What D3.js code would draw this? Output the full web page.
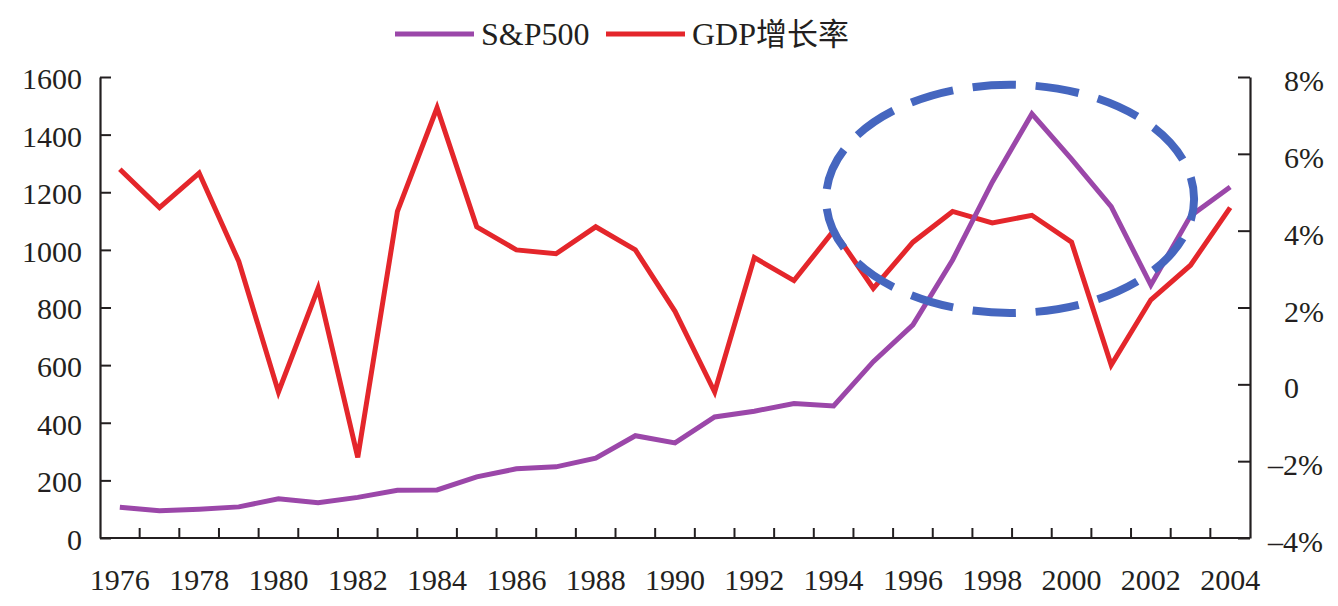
<!DOCTYPE html>
<html>
<head>
<meta charset="utf-8">
<script src="https://cdn.jsdelivr.net/npm/d3@7"></script>
<style>
  html, body { margin: 0; padding: 0; background: #fff; }
  svg { display: block; }
  text { font-family: "Liberation Serif", "Times New Roman", serif; fill: #231f20; }
</style>
</head>
<body>
<svg id="chart" width="1338" height="606"></svg>
<script>
const years = [1976,1977,1978,1979,1980,1981,1982,1983,1984,1985,1986,1987,1988,1989,1990,
               1991,1992,1993,1994,1995,1996,1997,1998,1999,2000,2001,2002,2003,2004];
const sp500 = [107,95,100,108,136,122,141,166,167,212,240,247,277,355,330,
               420,440,467,458,612,740,965,1235,1472,1315,1150,878,1118,1218];
const gdpGrowth = [5.6,4.6,5.5,3.2,-0.2,2.5,-1.9,4.5,7.2,4.1,3.5,3.4,4.1,3.5,1.9,
                   -0.2,3.3,2.7,4.0,2.5,3.7,4.5,4.2,4.4,3.7,0.5,2.2,3.1,4.6];
const leftTicks = [0,200,400,600,800,1000,1200,1400,1600];
const rightTicks = [-4,-2,0,2,4,6,8];
const xTickLabels = [1976,1978,1980,1982,1984,1986,1988,1990,1992,1994,1996,1998,2000,2002,2004];
const seriesNames = ["S&P500", "GDP增长率"];
const seriesColors = ["#9b47a9", "#e4262b"];
// highlight annotation, in data units (year, left-axis value)
const highlightCenter = [1998.45, 1177];
const highlightRadius = [4.64, 396];

const svg = d3.select("#chart");
const L = 100, R = 1250, T = 77, B = 538;
const ink = "#231f20";
const serif = '"Liberation Serif", "Times New Roman", serif';

const x = d3.scaleBand().domain(years).range([L, R]);
const bw = x.bandwidth();
const xc = d => x(d) + bw / 2;
const xLin = d3.scaleLinear().domain([years[0], years[years.length - 1]])
  .range([xc(years[0]), xc(years[years.length - 1])]);
const yL = d3.scaleLinear().domain([0, 1600]).range([B, T]);
const yR = d3.scaleLinear().domain([-4, 8]).range([B, T]);

// left axis
const gL = svg.append("g").attr("transform", `translate(${L},0)`)
  .call(d3.axisLeft(yL).tickValues(leftTicks).tickFormat(d3.format("d"))
    .tickSizeInner(-11).tickSizeOuter(0).tickPadding(18));
gL.selectAll("text").attr("dy", "0.38em");

// right axis
const fmtR = d => d === 0 ? "0" : (d < 0 ? "\u2013" : "") + Math.abs(d) + "%";
const gR = svg.append("g").attr("transform", `translate(${R},0)`)
  .call(d3.axisRight(yR).tickValues(rightTicks).tickFormat(fmtR).tickSizeInner(-12).tickSizeOuter(0).tickPadding(33));
gR.selectAll("text").attr("dy", "0.45em")
  .attr("x", d => d < 0 ? 18 : 34);

// bottom axis: labels centered on bands, ticks at band boundaries
const gB = svg.append("g").attr("transform", `translate(0,${B})`)
  .call(d3.axisBottom(x).tickValues(xTickLabels).tickSize(0).tickPadding(31));
gB.select(".domain").remove();
gB.selectAll(".xb").data(years.slice(1)).join("line").attr("class", "xb")
  .attr("x1", d => x(d)).attr("x2", d => x(d)).attr("y1", 0).attr("y2", -10)
  .attr("stroke", ink).attr("stroke-width", 2);
gB.append("line").attr("x1", L).attr("x2", R).attr("y1", 0).attr("y2", 0)
  .attr("stroke", ink).attr("stroke-width", 2.2);

[gL, gR, gB].forEach(g => {
  g.attr("font-family", null).attr("font-size", null);
  g.select(".domain").attr("stroke", ink).attr("stroke-width", 2.2);
  g.selectAll(".tick line").attr("stroke", ink).attr("stroke-width", 2);
  g.selectAll(".tick text").attr("fill", ink)
    .style("font-family", serif).style("font-size", "30px");
});

// lines
const lineL = d3.line().x((d, i) => xc(years[i])).y(d => yL(d));
const lineR = d3.line().x((d, i) => xc(years[i])).y(d => yR(d));
svg.append("path").datum(gdpGrowth).attr("d", lineR)
  .attr("fill", "none").attr("stroke", seriesColors[1]).attr("stroke-width", 5);
svg.append("path").datum(sp500).attr("d", lineL)
  .attr("fill", "none").attr("stroke", seriesColors[0]).attr("stroke-width", 5);

// dashed highlight ellipse
const cx = xLin(highlightCenter[0]), cy = yL(highlightCenter[1]);
const rx = xLin(highlightCenter[0] + highlightRadius[0]) - cx;
const ry = cy - yL(highlightCenter[1] + highlightRadius[1]);
svg.append("ellipse").attr("cx", cx).attr("cy", cy).attr("rx", rx).attr("ry", ry)
  .attr("fill", "none").attr("stroke", "#4566bf").attr("stroke-width", 8)
  .attr("pathLength", 960).attr("stroke-dasharray", "44 20").attr("stroke-dashoffset", 22);

// legend
const legendX = [395, 606];
const lg = svg.append("g");
seriesNames.forEach((name, i) => {
  lg.append("line").attr("x1", legendX[i]).attr("x2", legendX[i] + 79)
    .attr("y1", 34).attr("y2", 34).attr("stroke", seriesColors[i]).attr("stroke-width", 5);
  const t = lg.append("text").attr("x", legendX[i] + 86).attr("y", 44.5)
    .style("font-family", serif).style("font-size", "32px");
  if (i === 1) {
    t.append("tspan").text("GDP");
    t.append("tspan").style("font-family", '"Noto Sans CJK SC", sans-serif').style("font-size", "31px").text("增长率");
  } else {
    t.text(name);
  }
});
</script>
</body>
</html>
